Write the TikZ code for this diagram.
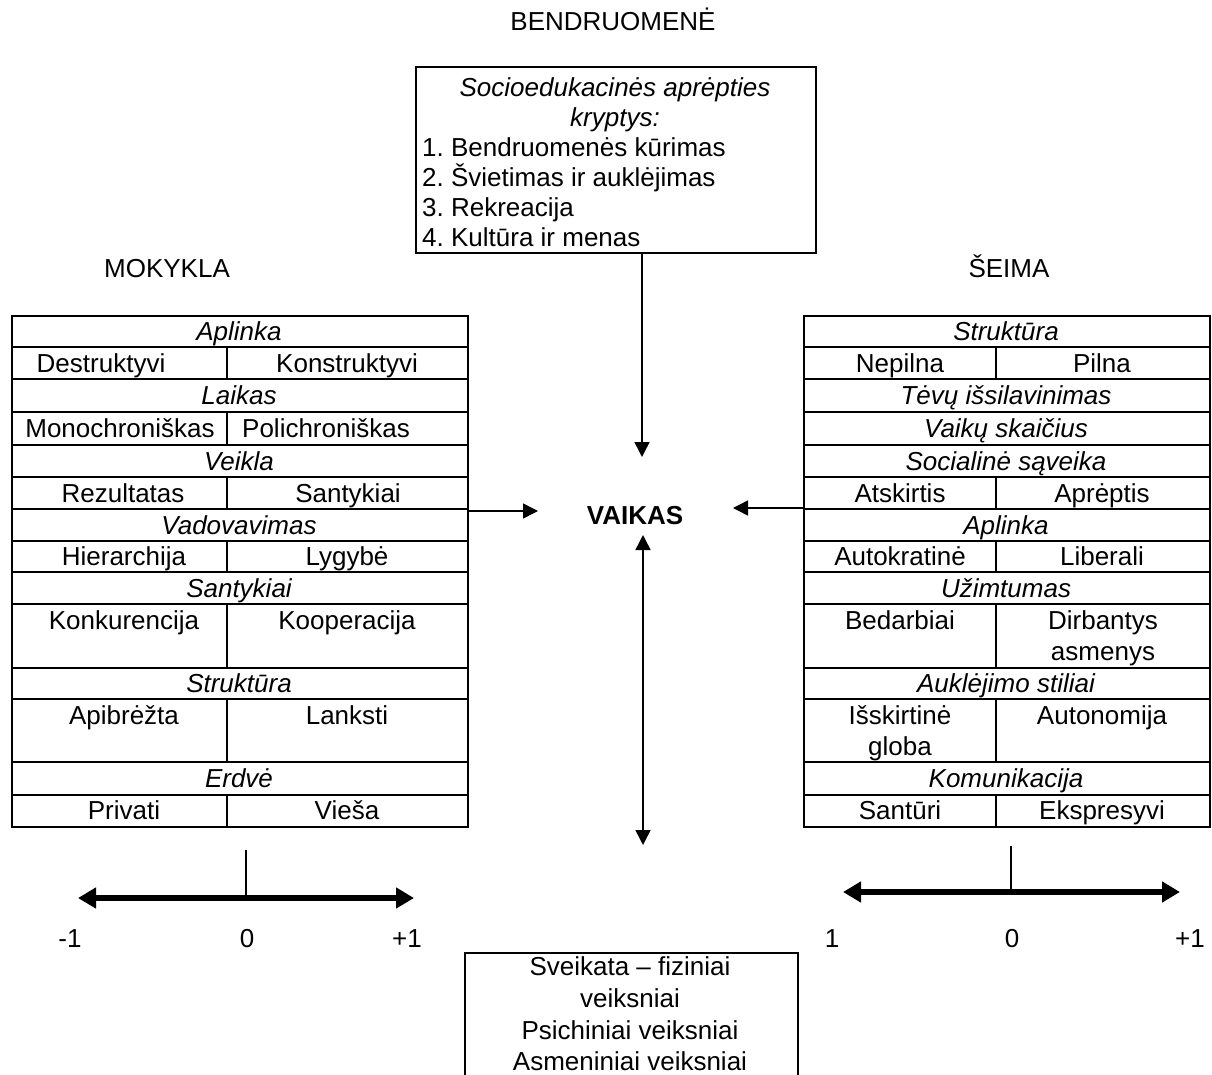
\documentclass[tikz,border=0pt]{standalone}
\usepackage{fontspec}
\setmainfont{Liberation Sans}
\usetikzlibrary{arrows.meta,calc}
\begin{document}
\frenchspacing
\begin{tikzpicture}[x=1pt,y=-1pt,
  txt/.style={inner sep=0pt, anchor=base, font=\fontsize{26}{31}\selectfont},
  hd/.style={inner sep=0pt, anchor=base, font=\fontsize{26}{31}\selectfont\itshape},
  lft/.style={inner sep=0pt, anchor=base west, font=\fontsize{26}{31}\selectfont},
  grid/.style={line width=2pt},
  frame/.style={draw, line width=2pt, inner sep=0pt, anchor=north west},
  conn/.style={line width=1.5pt, -{Triangle[length=15pt,width=15pt]}},
  conn2/.style={line width=1.5pt, {Triangle[length=15pt,width=15pt]}-{Triangle[length=15pt,width=15pt]}},
  scalearr/.style={line width=5.5pt, {Triangle[length=18pt,width=20pt]}-{Triangle[length=18pt,width=20pt]}},
  tick/.style={line width=1.2pt}]
\useasboundingbox (0,0) rectangle (1212,1075);

% titles
\node[txt] (bendr) at (613,31) {BENDRUOMENĖ};
\node[txt] (mok) at (167,277) {MOKYKLA};
\node[txt] (seima) at (1009,277) {ŠEIMA};
\node[inner sep=0pt, anchor=base, font=\fontsize{26}{31}\selectfont\bfseries] (vaikas) at (635,524) {VAIKAS};

% top box
\node[frame, minimum width=400pt, minimum height=186pt] (T) at (415,66) {};
\node[hd] (t1) at (615,97) {Socioedukacinės aprėpties};
\node[hd] (t2) at (615,127) {kryptys:};
\node[lft] (t3) at (422,157) {1. Bendruomenės kūrimas};
\node[lft] (t4) at (422,187) {2. Švietimas ir auklėjimas};
\node[lft] (t5) at (422,217) {3. Rekreacija};
\node[lft] (t6) at (422,247) {4. Kultūra ir menas};

% left table
\node[frame, minimum width=456pt, minimum height=511pt] (L) at (11,315) {};
\foreach \yy in {347,379,412,445,477,509,541,572,604,668,699,762,795}
  \draw[grid] (11,\yy) -- (467,\yy);
\foreach \ya/\yb in {347/379,412/445,477/509,541/572,604/668,699/762,795/826}
  \draw[grid] (227,\ya) -- (227,\yb);
\node[hd] (l1) at (239,340) {Aplinka};
\node[txt] (l2a) at (101,372) {Destruktyvi};
\node[txt] (l2b) at (347,372) {Konstruktyvi};
\node[hd] (l3) at (239,404) {Laikas};
\node[txt] (l4a) at (120,437) {Monochroniškas};
\node[txt] (l4b) at (326,437) {Polichroniškas};
\node[hd] (l5) at (239,470) {Veikla};
\node[txt] (l6a) at (123,502) {Rezultatas};
\node[txt] (l6b) at (348,502) {Santykiai};
\node[hd] (l7) at (239,534) {Vadovavimas};
\node[txt] (l8a) at (124,565) {Hierarchija};
\node[txt] (l8b) at (347,565) {Lygybė};
\node[hd] (l9) at (239,597) {Santykiai};
\node[txt] (l10a) at (124,629) {Konkurencija};
\node[txt] (l10b) at (347,629) {Kooperacija};
\node[hd] (l11) at (239,692) {Struktūra};
\node[txt] (l12a) at (124,724) {Apibrėžta};
\node[txt] (l12b) at (347,724) {Lanksti};
\node[hd] (l13) at (239,787) {Erdvė};
\node[txt] (l14a) at (124,819) {Privati};
\node[txt] (l14b) at (347,819) {Vieša};

% right table
\node[frame, minimum width=406pt, minimum height=511pt] (R) at (803,315) {};
\foreach \yy in {347,379,412,445,477,509,541,572,604,668,699,762,795}
  \draw[grid] (803,\yy) -- (1209,\yy);
\foreach \ya/\yb in {347/379,477/509,541/572,604/668,699/762,795/826}
  \draw[grid] (996,\ya) -- (996,\yb);
\node[hd] (r1) at (1006,340) {Struktūra};
\node[txt] (r2a) at (900,372) {Nepilna};
\node[txt] (r2b) at (1102,372) {Pilna};
\node[hd] (r3) at (1006,404) {Tėvų išsilavinimas};
\node[hd] (r4) at (1006,437) {Vaikų skaičius};
\node[hd] (r5) at (1006,470) {Socialinė sąveika};
\node[txt] (r6a) at (900,502) {Atskirtis};
\node[txt] (r6b) at (1102,502) {Aprėptis};
\node[hd] (r7) at (1006,534) {Aplinka};
\node[txt] (r8a) at (900,565) {Autokratinė};
\node[txt] (r8b) at (1102,565) {Liberali};
\node[hd] (r9) at (1006,597) {Užimtumas};
\node[txt] (r10a) at (900,629) {Bedarbiai};
\node[txt] (r10b) at (1103,629) {Dirbantys};
\node[txt] (r10c) at (1103,660) {asmenys};
\node[hd] (r11) at (1006,692) {Auklėjimo stiliai};
\node[txt] (r12a) at (900,724) {Išskirtinė};
\node[txt] (r12c) at (900,755) {globa};
\node[txt] (r12b) at (1102,724) {Autonomija};
\node[hd] (r13) at (1006,787) {Komunikacija};
\node[txt] (r14a) at (900,819) {Santūri};
\node[txt] (r14b) at (1102,819) {Ekspresyvi};

% bottom box
\node[frame, minimum width=333pt, minimum height=140pt] (B) at (464,952) {};
\node[txt] (b1) at (630,975) {Sveikata – fiziniai};
\node[txt] (b2) at (630,1007) {veiksniai};
\node[txt] (b3) at (630,1039) {Psichiniai veiksniai};
\node[txt] (b4) at (630,1070) {Asmeniniai veiksniai};

% connectors
\coordinate (ta) at (642,457);
\draw[conn] (ta |- T.south) -- (ta);
\coordinate (la) at (538,511);
\draw[conn] (la -| L.east) -- (la);
\coordinate (ra) at (733,508);
\draw[conn] (ra -| R.west) -- (ra);
\coordinate (va1) at (643,535);
\coordinate (va2) at (643,845);
\draw[conn2] (va1) -- (va2);

% scales
\coordinate (sl1) at (78,898);
\coordinate (sl2) at (414,898);
\coordinate (slt) at (246,850);
\draw[scalearr] (sl1) -- (sl2);
\draw[tick] (slt) -- (slt |- sl1);
\node[txt] (sla) at (70,947) {-1};
\node[txt] (slb) at (247,947) {0};
\node[txt] (slc) at (407,947) {+1};

\coordinate (sr1) at (843,892);
\coordinate (sr2) at (1180,892);
\coordinate (srt) at (1011,846);
\draw[scalearr] (sr1) -- (sr2);
\draw[tick] (srt) -- (srt |- sr1);
\node[txt] (sra) at (832,947) {1};
\node[txt] (srb) at (1012,947) {0};
\node[txt] (src) at (1190,947) {+1};
\end{tikzpicture}
\end{document}
